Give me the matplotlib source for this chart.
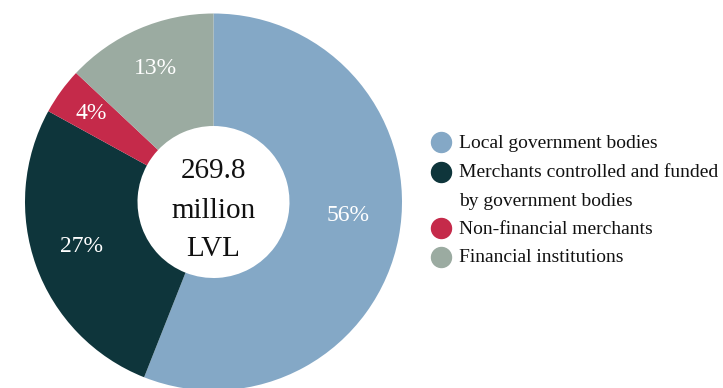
import numpy as np
import matplotlib
matplotlib.use("Agg")
import matplotlib.pyplot as plt
from matplotlib.lines import Line2D

# Breakdown of the total, in percent
categories = [
    "Local government bodies",
    "Merchants controlled and funded\nby government bodies",
    "Non-financial merchants",
    "Financial institutions",
]
shares = [56, 27, 4, 13]
colors = ["#84A8C6", "#0E353B", "#C52A4A", "#9BABA1"]
total_lines = ["269.8", "million", "LVL"]

serif = ["Liberation Serif", "DejaVu Serif"]

W, H = 723, 388
fig = plt.figure(figsize=(W / 100, H / 100), dpi=100)

# Pie placed in pixel terms: centre (213.5, 202), radius 188.5
cx, cy, r = 213.5, 202, 188.5
ax = fig.add_axes([(cx - r) / W, (H - cy - r) / H, 2 * r / W, 2 * r / H])

hole = 76 / r
wedges, texts, autotexts = ax.pie(
    shares,
    colors=colors,
    startangle=90,
    counterclock=False,
    radius=1,
    wedgeprops=dict(width=1 - hole, linewidth=0),
    autopct=lambda p: f"{p:.0f}%",
    pctdistance=0.76,
    textprops=dict(color="white", fontsize=17, family=serif),
)
ax.set_xlim(-1, 1)
ax.set_ylim(-1, 1)
ax.set_aspect("equal")
ax.axis("off")

# Percentage labels: radial distance and small angular shift per slice
label_dist = [0.72, 0.74, 0.80, 0.77]
label_shift = [5.0, -1.0, 0.0, 0.0]
for w, t, d, s in zip(wedges, autotexts, label_dist, label_shift):
    ang = np.deg2rad((w.theta1 + w.theta2) / 2 + s)
    t.set_position((d * np.cos(ang), d * np.sin(ang)))

# Total in the hole
for txt, y in zip(total_lines, [0.127, -0.085, -0.286]):
    ax.text(0, y, txt, ha="center", va="baseline", fontsize=21,
            family=serif, color="#111111")

# Legend drawn as markers and labels
marker_x = 441 / W
text_x = 459 / W
rows_y = [142, 172, 228, 257]
line_step = 29
for cat, col, y in zip(categories, colors, rows_y):
    fig.add_artist(Line2D([marker_x], [1 - y / H], marker="o", markersize=14.4,
                          color=col, linestyle="none",
                          transform=fig.transFigure))
    for i, line in enumerate(cat.split("\n")):
        fig.text(text_x, 1 - (y + 5.5 + i * line_step) / H, line,
                 ha="left", va="baseline", fontsize=14, family=serif,
                 color="#111111")

fig.savefig("out.png", dpi=100)
